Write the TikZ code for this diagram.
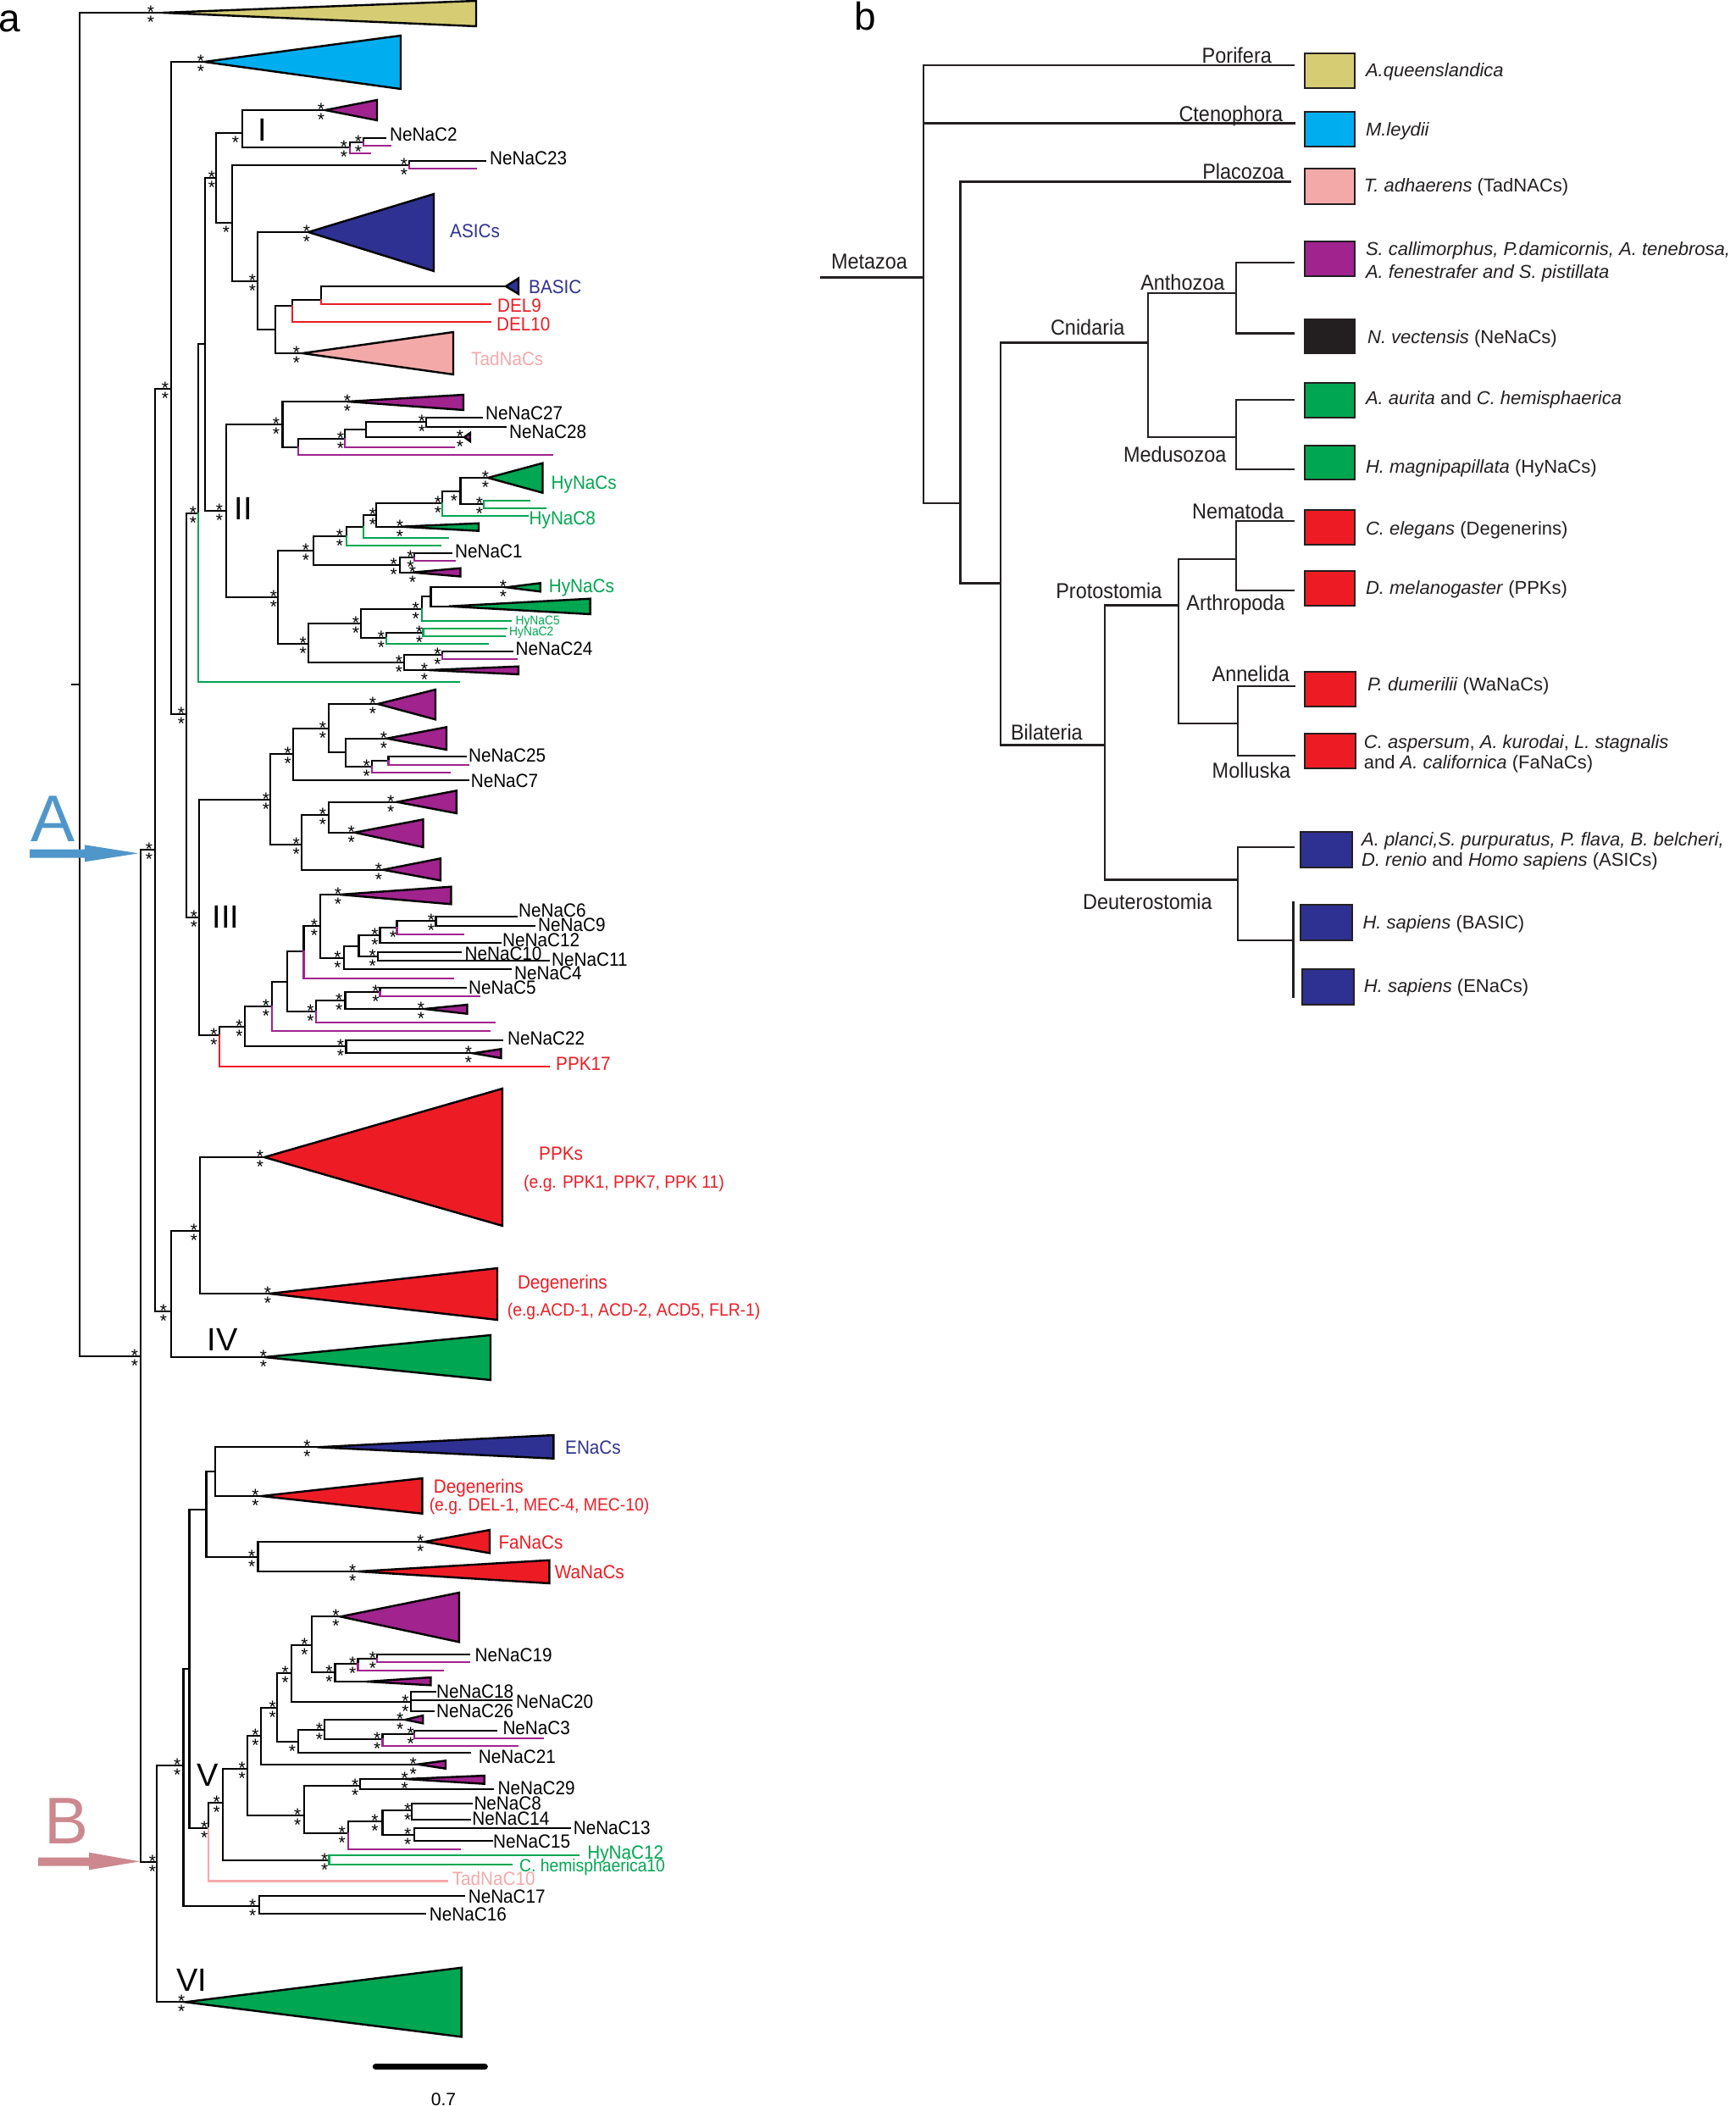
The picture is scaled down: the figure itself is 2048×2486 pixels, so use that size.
\documentclass[tikz,border=0pt]{standalone}
\usepackage{fontspec}
\setmainfont{Liberation Sans}
\newfontfamily\labfont[FakeStretch=0.92]{Liberation Sans}
\definecolor{yel}{HTML}{D5CC74}
\definecolor{cya}{HTML}{00AEEF}
\definecolor{pur}{HTML}{A0238E}
\definecolor{dbl}{HTML}{2E3192}
\definecolor{pnk}{HTML}{F4A9A9}
\definecolor{redc}{HTML}{ED1C24}
\definecolor{grn}{HTML}{00A651}
\definecolor{blk}{HTML}{231F20}
\definecolor{arA}{HTML}{4F97CB}
\definecolor{arB}{HTML}{CC888E}
\definecolor{pkl}{HTML}{F6A8A8}
\newcommand\bra[5]{\coordinate (#2) at (#3,#4); \draw[br,#5] (#1) |- (#2);}
\newcommand\tri[8]{\coordinate (#2) at (#3,#4); \draw[br,black] (#1) |- (#2); \filldraw[tribox,fill=#8] (#2) -- (#5,#6) -- (#5,#7) -- cycle;}
\newcommand\sst[2]{\node[stt] at (#1,#2+6.3) {*}; \node[stt] at (#1,#2+18.3) {*};}
\newcommand\stb[2]{\node[stt] at (#1,#2+18.3) {*};}
\newcommand\lab[5]{\node[lab,text=#4] (#1) at (#2,#3) {#5};}
\newcommand\pbra[4]{\coordinate (#2) at (#3,#4); \draw[pbr] (#1) |- (#2);}
\begin{document}
\begin{tikzpicture}[x=1pt,y=-1pt,
  br/.style={line width=2.2pt,line cap=rect,line join=miter},
  pbr/.style={line width=2.4pt,line cap=rect,draw=blk},
  tribox/.style={line width=2.4pt,line join=miter,draw=black},
  bbox/.style={line width=2pt,draw=blk},
  stt/.style={anchor=base,inner sep=0pt,font=\fontsize{21}{21}\selectfont},
  lab/.style={anchor=base west,inner sep=0pt,font=\labfont\fontsize{22.5}{24}\selectfont},
  labs/.style={anchor=base west,inner sep=0pt,font=\labfont\fontsize{21}{22}\selectfont},
  labt/.style={anchor=base west,inner sep=0pt,font=\labfont\fontsize{15}{16}\selectfont},
  rom/.style={anchor=base,inner sep=0pt,font=\fontsize{38}{38}\selectfont},
  cl/.style={anchor=base,inner sep=0pt,text=blk,font=\labfont\fontsize{25.5}{26}\selectfont},
  sp/.style={anchor=base west,inner sep=0pt,text=blk,font=\fontsize{22}{24}\selectfont}]
\useasboundingbox (0,0) rectangle (2048,2486);
\fill[white] (0,0) rectangle (2048,2486);
% ================= panel a =================
\node[anchor=base west,inner sep=0pt,font=\fontsize{46}{46}\selectfont] (pa) at (-2,38) {a};
\coordinate (rootstub) at (85,808);
\coordinate (root) at (94,808);
\draw[br] (rootstub) -- (root);
\tri{root}{tY}{192}{15}{562}{1}{31}{yel}
\bra{root}{nA}{166}{1601}{black}
\bra{nA}{n183}{183}{1003}{black}
\bra{nA}{n185}{185.3}{2198}{black}
\bra{n183}{n202}{202}{459}{black}
\bra{n183}{n202b}{202}{1548}{black}
\tri{n202}{tC}{241}{73}{473}{42}{105}{cya}
\bra{n202}{n220}{220}{843}{black}
\bra{n220}{n234}{234.3}{606}{black}
\bra{n220}{n235}{235}{1083}{black}
\bra{n234}{n241}{241.8}{406}{black}
\bra{n234}{lG1}{542}{805}{grn}
\bra{n241}{n255}{255}{210}{black}
\bra{n241}{n267}{267}{603}{black}
\bra{n255}{n286}{286}{157}{black}
\bra{n255}{n274}{274}{263}{black}
\tri{n286}{tI}{384}{130}{445}{118}{142}{pur}
\bra{n286}{n413}{413}{174}{black}
\bra{n413}{n429}{429}{168}{black}
\bra{n413}{l413}{437}{181}{pur}
\bra{n429}{lC2}{455}{163}{black}
\bra{n429}{l429}{461}{172}{pur}
\bra{n274}{n483}{483}{195}{black}
\bra{n274}{n304}{304}{332}{black}
\bra{n483}{lC23}{573}{190}{black}
\bra{n483}{l483}{562}{199}{pur}
\tri{n304}{tAS}{364}{274}{512}{229}{320}{dbl}
\bra{n304}{n325}{325}{389}{black}
\bra{n325}{n345}{345}{361}{black}
\tri{n325}{tTad}{357}{417}{535}{392}{442}{pnk}
\bra{n345}{n379}{379}{354}{black}
\bra{n345}{lD10}{579}{380}{redc}
\bra{n379}{lBA}{597}{338}{black}
\filldraw[tribox,fill=dbl] (lBA) -- (612,328.5) -- (612,347) -- cycle;
\bra{n379}{lD9}{579}{359}{redc}
% clade II
\bra{n267}{n333}{333.5}{501}{black}
\bra{n267}{n328}{328.2}{705}{black}
\tri{n333}{tII1}{410}{474}{547}{466}{484}{pur}
\bra{n333}{n352}{352}{528}{black}
\bra{n352}{n407}{407}{518}{black}
\bra{n352}{l352}{652}{537}{pur}
\bra{n407}{n432}{432}{507}{black}
\bra{n407}{l407}{536}{528}{pur}
\bra{n432}{n503}{503}{498}{black}
\tri{n432}{tII2}{548}{516}{555}{511}{521}{pur}
\bra{n503}{lC27}{569}{493}{black}
\bra{n503}{lC28}{597}{504}{black}
\bra{n328}{n370}{370}{650}{black}
\bra{n328}{n364}{364}{760}{black}
\bra{n370}{n409}{409}{632.7}{black}
\bra{n370}{n471}{471.7}{666.7}{black}
\bra{n409}{n429b}{429}{621.7}{black}
\bra{n409}{l409}{520}{644}{grn}
\bra{n429b}{n444}{444}{608.3}{black}
\bra{n429b}{l429b}{529}{635}{grn}
\bra{n444}{n522}{522}{594}{black}
\tri{n444}{tII3}{473}{621.7}{565}{617.7}{626.7}{grn}
\bra{n522}{n543}{543.5}{580}{black}
\bra{n522}{lH8}{623}{609}{grn}
\tri{n543}{tHy1}{576}{564}{640.5}{546.7}{581.7}{grn}
\bra{n543}{n571}{571}{595}{black}
\bra{n571}{l571a}{624.5}{591}{grn}
\bra{n571}{l571b}{644}{600}{grn}
\bra{n471}{n489}{489}{657.7}{black}
\tri{n471}{tII4}{487}{675.7}{543.5}{670.7}{680.5}{pur}
\bra{n489}{lC1}{532.4}{652.7}{black}
\bra{n489}{l489}{537}{661.7}{pur}
\bra{n364}{n425}{425.6}{736}{black}
\bra{n364}{n477}{477}{782.3}{black}
\bra{n425}{n497}{497.7}{719.3}{black}
\bra{n425}{n455}{455.6}{753.3}{black}
\bra{n497}{n508}{508.4}{704.3}{black}
\bra{n497}{lH5}{603}{733.3}{grn}
\tri{n508}{tHy2}{597.7}{693.3}{637.7}{688.3}{698.3}{grn}
\tri{n508}{tHy3}{530}{715.7}{696.6}{706.7}{725}{grn}
\bra{n455}{n499}{499.5}{746.7}{black}
\bra{n455}{l455}{576.3}{760}{grn}
\bra{n499}{l499a}{597.7}{742.3}{grn}
\bra{n499}{lH2}{596}{751}{grn}
\bra{n477}{n522b}{522}{773.3}{black}
\tri{n477}{tII5}{506}{791}{612}{786.7}{796}{pur}
\bra{n522b}{lC24}{605}{769.3}{black}
\bra{n522b}{l522b}{610}{777.7}{pur}
% clade III
\bra{n235}{n319}{319}{944}{black}
\bra{n235}{n259}{259.3}{1221.7}{black}
\bra{n319}{n346}{346}{890}{black}
\bra{n319}{n355}{355.6}{997.3}{black}
\bra{n346}{n388}{388}{860}{black}
\bra{n346}{lC7}{552.4}{920.7}{black}
\tri{n388}{tIII1}{446}{831}{514}{814}{849.3}{pur}
\bra{n388}{n408}{407.8}{888.3}{black}
\tri{n408}{tIII2}{456.7}{871.7}{527}{858.3}{885}{pur}
\bra{n408}{n439}{439}{905}{black}
\bra{n439}{n458}{458.5}{898.3}{black}
\bra{n439}{l439}{530.6}{911.7}{pur}
\bra{n458}{lC25}{549.5}{893.3}{black}
\bra{n458}{l458}{552.4}{902.7}{pur}
\bra{n355}{n388b}{388}{962.3}{black}
\tri{n355}{tIII3}{452}{1026.7}{520}{1013.3}{1039.3}{pur}
\tri{n388b}{tIII4}{468.5}{946.7}{538.8}{933.3}{960}{pur}
\tri{n388b}{tIII5}{418.5}{982.7}{499.5}{967.3}{1000}{pur}
\bra{n259}{n289}{289}{1211.7}{black}
\bra{n259}{lP17}{647.7}{1259.3}{redc}
\bra{n289}{n321}{321}{1187.7}{black}
\bra{n289}{n408b}{408.5}{1235}{black}
\bra{n321}{n339}{339}{1159}{black}
\bra{n321}{l321}{577.4}{1216.7}{pur}
\bra{n339}{n358}{358.5}{1123.3}{black}
\bra{n339}{n373}{373}{1194}{black}
\bra{n358}{n378}{378}{1093.3}{black}
\bra{n358}{l358}{534.5}{1155}{pur}
\tri{n378}{tIII6}{401}{1056}{532.4}{1046.7}{1067.3}{pur}
\bra{n378}{n406}{406}{1131}{black}
\bra{n406}{n423}{423.5}{1116.7}{black}
\bra{n406}{lC4}{603}{1144.3}{black}
\bra{n423}{n448}{448.5}{1104}{black}
\bra{n423}{n446}{446}{1129.3}{black}
\bra{n448}{n468}{468.5}{1095}{black}
\bra{n448}{lC12}{590.6}{1113.3}{black}
\bra{n468}{n514}{514.5}{1087.3}{black}
\bra{n468}{l468}{546.7}{1103.3}{pur}
\bra{n514}{lC6}{610.2}{1081.7}{black}
\bra{n514}{lC9}{630.6}{1093.3}{black}
\bra{n446}{lC10}{544}{1124}{black}
\bra{n446}{lC11}{647.7}{1134.3}{black}
\bra{n373}{n407b}{407.4}{1181}{black}
\bra{n373}{l373}{583.4}{1207.3}{pur}
\bra{n407b}{n448b}{448.5}{1170.7}{black}
\tri{n407b}{tIII7}{501}{1191}{551.3}{1186}{1196.7}{pur}
\bra{n448b}{lC5}{549.5}{1165.7}{black}
\bra{n448b}{l448b}{565.7}{1175.7}{pur}
\bra{n408b}{lC22}{593}{1227.7}{black}
\tri{n408b}{tIII8}{558.5}{1243.3}{591.3}{1238.3}{1249}{pur}
% clade IV
\bra{n202b}{n236}{236}{1453}{black}
\tri{n202b}{tIV}{312}{1602}{579}{1576}{1629}{grn}
\tri{n236}{tPPK}{312}{1366}{593}{1285}{1447}{redc}
\tri{n236}{tDeg}{318}{1527}{587}{1497}{1558}{redc}
% B part
\bra{n185}{n216}{216.5}{2084}{black}
\tri{n185}{tVI}{218.7}{2363.3}{544.6}{2322.7}{2404.3}{grn}
\bra{n216}{n223}{223.5}{1970}{black}
\bra{n216}{n306}{305.7}{2250}{black}
\bra{n306}{lC17}{548.2}{2237.7}{black}
\bra{n306}{lC16}{502.2}{2259.3}{black}
\bra{n223}{n243}{243.4}{1781.7}{black}
\bra{n223}{n246}{246.3}{2157.7}{black}
\bra{n243}{n254}{253.8}{1736.7}{black}
\bra{n243}{n304b}{304.4}{1837.7}{black}
\tri{n254}{tEN}{374.8}{1708.3}{653.4}{1694}{1721.7}{dbl}
\tri{n254}{tDeg2}{308.5}{1766}{498.3}{1745}{1786.7}{redc}
\tri{n304b}{tFa}{501.2}{1820}{578}{1806}{1833.3}{redc}
\tri{n304b}{tWa}{422.5}{1855}{648.4}{1841.7}{1869}{redc}
\bra{n246}{n263}{262.9}{2128.3}{black}
\bra{n246}{lT10}{528.2}{2220.5}{pkl}
\bra{n263}{n292}{291.9}{2087.7}{black}
\bra{n263}{n388c}{388.5}{2196}{black}
\bra{n388c}{lH12}{682.8}{2190}{grn}
\bra{n388c}{lCh10}{603.6}{2201}{grn}
\bra{n292}{n308}{307.7}{2049.3}{black}
\bra{n292}{n359}{359}{2143.3}{black}
\bra{n308}{n327}{327.2}{2016}{black}
\tri{n308}{tV1}{493}{2082.7}{526}{2078.3}{2087.7}{pur}
\bra{n327}{n344}{343.7}{1975}{black}
\bra{n327}{n352b}{352}{2055.7}{black}
\bra{n344}{n368}{367.8}{1941.7}{black}
\bra{n344}{n485}{484.7}{2009.3}{black}
\tri{n368}{tV2}{401.8}{1908.3}{541.9}{1880}{1938.3}{pur}
\bra{n368}{n395}{395.5}{1974.3}{black}
\bra{n395}{n422}{422.5}{1964}{black}
\tri{n395}{tV3}{432.8}{1985}{508.3}{1980}{1989.3}{pur}
\bra{n422}{n445}{445.3}{1958.3}{black}
\bra{n422}{l422}{523.2}{1971.7}{pur}
\bra{n445}{lC19}{554.3}{1953.3}{black}
\bra{n445}{l445}{554.3}{1962.3}{pur}
\bra{n485}{lC18}{513.7}{1997.3}{black}
\bra{n485}{lC20}{603.6}{2007.3}{black}
\bra{n485}{lC26}{511.6}{2020}{black}
\bra{n352b}{n383}{383.1}{2041.7}{black}
\bra{n352b}{lC21}{555.1}{2069.3}{black}
\tri{n383}{tV4}{478.4}{2030}{499.2}{2025}{2034.3}{pur}
\bra{n383}{n451}{451.5}{2053.3}{black}
\bra{n451}{n489b}{488.8}{2046.7}{black}
\bra{n451}{l451}{611}{2060.7}{pur}
\bra{n489b}{lC3}{586.2}{2042.7}{black}
\bra{n489b}{l489b}{641}{2051.7}{pur}
\bra{n359}{n425b}{424.6}{2107.7}{black}
\bra{n359}{n411}{410.9}{2164.3}{black}
\tri{n425b}{tV5}{478.4}{2100}{571.7}{2096}{2105.7}{pur}
\bra{n425b}{lC29}{582}{2112.3}{black}
\bra{n411}{n451b}{451.5}{2150}{black}
\bra{n411}{l411}{542.7}{2182.7}{pur}
\bra{n451b}{n486}{485.9}{2137.3}{black}
\bra{n451b}{n489c}{488.8}{2166}{black}
\bra{n486}{lC8}{557.2}{2129.3}{black}
\bra{n486}{lC14}{555.1}{2148.3}{black}
\bra{n489c}{lC13}{673.2}{2158.3}{black}
\bra{n489c}{lC15}{581.2}{2173.3}{black}
% stars
\sst{178}{15}\sst{237}{73}\sst{250}{210}\stb{278}{157}\sst{379}{130}
\sst{423}{168}\sst{406}{174}\sst{477}{195}\stb{267}{263}\sst{298}{332}
\sst{362}{274}\sst{350}{417}\sst{195}{459}\sst{176}{1003}\sst{159}{1601}
\sst{214}{843}\sst{228}{606}\sst{229}{1083}\sst{259}{603}
\sst{326}{501}\sst{410}{474}\sst{402}{518}\sst{498}{498}\sst{543}{516}
\sst{323}{705}\sst{361}{650}\sst{401}{632.7}\sst{440}{608.3}\sst{517}{594}
\stb{536}{580}\sst{573}{564}\sst{566}{595}\sst{472}{621.7}\sst{464.6}{666.7}
\sst{484.5}{657.7}\sst{487}{675.7}\sst{357.8}{760}\sst{420}{736}\sst{490.6}{719.3}
\sst{594}{693.3}\sst{450}{753.3}\sst{495}{746.7}\sst{471}{782.3}\sst{516.4}{773.3}
\sst{501}{791}
\sst{314}{944}\sst{339.6}{890}\sst{381}{860}\sst{440}{831}\sst{453}{871.7}
\sst{432.8}{905}\sst{349.6}{997.3}\sst{381}{962.3}\sst{461.3}{946.7}\sst{414.6}{982.7}
\sst{447}{1026.7}\sst{252.5}{1221.7}\sst{282.5}{1211.7}\sst{314}{1187.7}\sst{371}{1093.3}
\sst{399}{1056}\sst{398.5}{1131}\sst{442.4}{1104}\stb{464}{1095}\sst{509}{1087.3}
\sst{439.6}{1129.3}\sst{366.4}{1194}\sst{400.3}{1181}\sst{443.5}{1170.7}\sst{497}{1191}
\sst{402}{1235}\sst{553}{1243.3}
\sst{193}{1548}\sst{229}{1453}\sst{307}{1366}\sst{316}{1527}\sst{311}{1602}
\sst{180}{2198}\sst{209.3}{2084}\sst{214.3}{2363.3}\sst{298.2}{2250}\sst{362.4}{1708.3}
\sst{301.4}{1766}\sst{297.3}{1837.7}\sst{496.3}{1820}\sst{416.3}{1855}\sst{241.3}{2157.7}
\sst{255.8}{2128.3}\sst{383.1}{2196}\sst{285.7}{2087.7}\sst{301.4}{2049.3}\sst{321.8}{2016}
\sst{336.7}{1975}\sst{359.5}{1941.7}\sst{396.4}{1908.3}\sst{388.5}{1974.3}\sst{416.3}{1964}
\sst{440}{1958.3}\sst{478.4}{2009.3}\stb{345}{2055.7}\sst{376.9}{2041.7}\sst{472.2}{2030}
\sst{445.3}{2053.3}\sst{484.7}{2046.7}\sst{487.6}{2082.7}\sst{351.2}{2143.3}\sst{419.2}{2107.7}
\sst{477.6}{2100}\sst{403.8}{2164.3}\sst{442.4}{2150}\sst{481.3}{2137.3}\sst{481.3}{2166}
% labels
\lab{xC2}{460}{166.5}{black}{NeNaC2}
\lab{xC23}{578}{194}{black}{NeNaC23}
\lab{xAS}{531}{280.5}{dbl}{ASICs}
\lab{xBA}{624}{346}{dbl}{BASIC}
\lab{xD9}{587}{368}{redc}{DEL9}
\lab{xD10}{586}{390.5}{redc}{DEL10}
\lab{xTad}{556}{431.5}{pnk}{TadNaCs}
\lab{xC27}{573}{495}{black}{NeNaC27}
\lab{xC28}{601}{517}{black}{NeNaC28}
\lab{xHy1}{650.5}{577}{grn}{HyNaCs}
\lab{xH8}{624.5}{619}{grn}{HyNaC8}
\lab{xC1}{537}{658.5}{black}{NeNaC1}
\lab{xHy2}{647.7}{699}{grn}{HyNaCs}
\node[labt,text=grn] (xH5) at (608.4,737.5) {HyNaC5};
\node[labt,text=grn] (xH2) at (601,750) {HyNaC2};
\lab{xC24}{608.4}{773.8}{black}{NeNaC24}
\lab{xC25}{553}{899.7}{black}{NeNaC25}
\lab{xC7}{555.6}{929}{black}{NeNaC7}
\lab{xC6}{612}{1082.7}{black}{NeNaC6}
\lab{xC9}{635}{1099}{black}{NeNaC9}
\lab{xC12}{593}{1117}{black}{NeNaC12}
\lab{xC10}{548.4}{1133}{black}{NeNaC10}
\lab{xC11}{651}{1140.5}{black}{NeNaC11}
\lab{xC4}{607}{1156}{black}{NeNaC4}
\lab{xC5}{553}{1173}{black}{NeNaC5}
\lab{xC22}{599}{1233.8}{black}{NeNaC22}
\lab{xP17}{656}{1263.8}{redc}{PPK17}
\lab{xPPK}{636}{1369.5}{redc}{PPKs}
\node[labs,text=redc] (xPPKe) at (618,1402) {(e.g. PPK1, PPK7, PPK 11)};
\lab{xDeg}{610.8}{1521}{redc}{Degenerins}
\node[labs,text=redc] (xDege) at (598.7,1553) {(e.g.ACD-1, ACD-2, ACD5, FLR-1)};
\lab{xEN}{667}{1716.7}{dbl}{ENaCs}
\lab{xDeg2}{511.6}{1762}{redc}{Degenerins}
\node[labs,text=redc] (xDeg2e) at (506.6,1783) {(e.g. DEL-1, MEC-4, MEC-10)};
\lab{xFa}{588.3}{1828}{redc}{FaNaCs}
\lab{xWa}{654.6}{1863.3}{redc}{WaNaCs}
\lab{xC19}{560.5}{1961.3}{black}{NeNaC19}
\lab{xC18}{515}{2004.3}{black}{NeNaC18}
\lab{xC20}{609}{2016}{black}{NeNaC20}
\lab{xC26}{515}{2027.5}{black}{NeNaC26}
\lab{xC3}{593.3}{2047.2}{black}{NeNaC3}
\lab{xC21}{564.7}{2081.8}{black}{NeNaC21}
\lab{xC29}{587.5}{2118.5}{black}{NeNaC29}
\lab{xC8}{559.3}{2136}{black}{NeNaC8}
\lab{xC14}{557.2}{2154.3}{black}{NeNaC14}
\lab{xC13}{676.6}{2165.7}{black}{NeNaC13}
\lab{xC15}{582}{2181.3}{black}{NeNaC15}
\lab{xH12}{693.2}{2194}{grn}{HyNaC12}
\node[labs,text=grn] (xCh10) at (613,2209) {C. hemisphaerica10};
\lab{xT10}{533.6}{2225}{pnk}{TadNaC10}
\lab{xC17}{552.6}{2246}{black}{NeNaC17}
\lab{xC16}{506.7}{2267.5}{black}{NeNaC16}
\node[rom] (rI) at (309.5,166) {I};
\node[rom] (rII) at (287.5,613) {II};
\node[rom] (rIII) at (266.5,1095) {III};
\node[rom] (rIV) at (262.5,1594) {IV};
\node[rom] (rV) at (244.8,2108.3) {V};
\node[rom] (rVI) at (226,2350) {VI};
% arrows A and B
\node[anchor=base,inner sep=0pt,text=arA,font=\fontsize{78}{78}\selectfont] (letA) at (62.5,993) {A};
\fill[arA] (35,1002.7) -- (100,1002.7) -- (100,997.3) -- (163.3,1007.3) -- (100,1017.3) -- (100,1012.7) -- (35,1012.7) -- cycle;
\node[anchor=base,inner sep=0pt,text=arB,font=\fontsize{78}{78}\selectfont] (letB) at (78.3,2176.7) {B};
\fill[arB] (45,2192.7) -- (105,2192.7) -- (105,2186.7) -- (165,2197.3) -- (105,2207.3) -- (105,2202.7) -- (45,2202.7) -- cycle;
% scale bar
\coordinate (sb1) at (443.4,2439.7);
\coordinate (sb2) at (572.2,2439.7);
\draw[line width=7.3pt,line cap=round] (sb1) -- (sb2);
\node[anchor=base,inner sep=0pt,font=\fontsize{21}{21}\selectfont] (sbl) at (523.5,2485) {0.7};
% ================= panel b =================
\node[anchor=base west,inner sep=0pt,font=\fontsize{46}{46}\selectfont] (pb) at (1008,36) {b};
\coordinate (bstub) at (969.6,327.3);
\coordinate (bM) at (1090,327.3);
\draw[pbr] (bstub) -- (bM);
\pbra{bM}{bPor}{1526.3}{77.3}
\pbra{bM}{bCte}{1527.7}{145.7}
\pbra{bM}{bP}{1133.5}{594}
\pbra{bP}{bPla}{1522.8}{214.3}
\pbra{bP}{bE}{1181}{688.3}
\pbra{bE}{bCn}{1354.8}{404.3}
\pbra{bE}{bBi}{1303.7}{879.3}
\pbra{bCn}{bAn}{1459}{346}
\pbra{bCn}{bMe}{1459}{515.7}
\pbra{bAn}{bAn1}{1526.3}{310}
\pbra{bAn}{bAn2}{1526.3}{393.3}
\pbra{bMe}{bMe1}{1526.3}{471.7}
\pbra{bMe}{bMe2}{1526.3}{554}
\pbra{bBi}{bPr}{1391.2}{714.3}
\pbra{bBi}{bDe}{1461.2}{1038.3}
\pbra{bPr}{bNA}{1459}{660}
\pbra{bPr}{bAM}{1461}{854}
\pbra{bNA}{bNA1}{1526.3}{615}
\pbra{bNA}{bNA2}{1526.3}{696.7}
\pbra{bAM}{bAM1}{1527.7}{810}
\pbra{bAM}{bAM2}{1527.7}{891.7}
\pbra{bDe}{bDe1}{1526.3}{1000}
\pbra{bDe}{bDe2}{1526.3}{1110}
\coordinate (bk1) at (1526.3,1065);
\coordinate (bk2) at (1526.3,1176.7);
\draw[pbr] (bk1) -- (bk2);
% clade labels
\node[cl] (cPor) at (1459.8,74.7) {Porifera};
\node[cl] (cCte) at (1452.8,143.3) {Ctenophora};
\node[cl] (cPla) at (1467.5,211.2) {Placozoa};
\node[cl] (cMet) at (1026,317.7) {Metazoa};
\node[cl] (cAnt) at (1395.8,342) {Anthozoa};
\node[cl] (cCni) at (1283.7,395.4) {Cnidaria};
\node[cl] (cMed) at (1386.7,545.9) {Medusozoa};
\node[cl] (cNem) at (1461.2,612.9) {Nematoda};
\node[cl] (cPro) at (1308.9,706) {Protostomia};
\node[cl] (cArt) at (1458.5,720) {Arthropoda};
\node[cl] (cAnn) at (1476.3,804.9) {Annelida};
\node[cl] (cBil) at (1235.4,873.7) {Bilateria};
\node[cl] (cMol) at (1477,918.2) {Molluska};
\node[cl] (cDeu) at (1354.4,1073.5) {Deuterostomia};
% boxes
\filldraw[bbox,fill=yel] (1540.3,62.7) rectangle (1599.2,104);
\filldraw[bbox,fill=cya] (1540.3,132.3) rectangle (1599.2,173.3);
\filldraw[bbox,fill=pnk] (1540.3,199.3) rectangle (1599.2,240.7);
\filldraw[bbox,fill=pur] (1540.3,285) rectangle (1599.2,326);
\filldraw[bbox,fill=blk] (1540.3,376.7) rectangle (1599.2,416.5);
\filldraw[bbox,fill=grn] (1540.3,452.3) rectangle (1599.2,493.3);
\filldraw[bbox,fill=grn] (1540.3,526) rectangle (1599.2,566);
\filldraw[bbox,fill=redc] (1540.3,601.7) rectangle (1599.2,643.3);
\filldraw[bbox,fill=redc] (1540.3,674) rectangle (1599.2,715);
\filldraw[bbox,fill=redc] (1540.3,793.3) rectangle (1599.9,834);
\filldraw[bbox,fill=redc] (1540.3,866) rectangle (1599.9,906.7);
\filldraw[bbox,fill=dbl] (1534.7,982.3) rectangle (1595.6,1024.3);
\filldraw[bbox,fill=dbl] (1534.7,1068.3) rectangle (1595.6,1110);
\filldraw[bbox,fill=dbl] (1536.8,1144) rectangle (1597.7,1186);
% species
\node[sp] (s1) at (1611.8,90.7) {\textit{A.queenslandica}};
\node[sp] (s2) at (1611.8,160.2) {\textit{M.leydii}};
\node[sp] (s3) at (1609.7,226) {\textit{T. adhaerens} (TadNACs)};
\node[sp] (s4) at (1611.8,301) {\textit{S. callimorphus, P.damicornis, A. tenebrosa,}};
\node[sp] (s5) at (1611.8,328) {\textit{A. fenestrafer and S. pistillata}};
\node[sp] (s6) at (1613.9,405.5) {\textit{N. vectensis} (NeNaCs)};
\node[sp] (s7) at (1611.8,477.3) {\textit{A. aurita} and \textit{C. hemisphaerica}};
\node[sp] (s8) at (1611.8,558.9) {\textit{H. magnipapillata} (HyNaCs)};
\node[sp] (s9) at (1611.8,631) {\textit{C. elegans} (Degenerins)};
\node[sp] (s10) at (1611.8,701.7) {\textit{D. melanogaster} (PPKs)};
\node[sp] (s11) at (1613.9,815.5) {\textit{P. dumerilii} (WaNaCs)};
\node[sp] (s12) at (1609.7,883.7) {\textit{C. aspersum}, \textit{A. kurodai}, \textit{L. stagnalis}};
\node[sp] (s13) at (1609.7,907.7) {and \textit{A. californica} (FaNaCs)};
\node[sp] (s14) at (1606.9,998.9) {\textit{A. planci,S. purpuratus, P. flava, B. belcheri,}};
\node[sp] (s15) at (1606.9,1022.4) {\textit{D. renio} and \textit{Homo sapiens} (ASICs)};
\node[sp] (s16) at (1608.3,1096.9) {\textit{H. sapiens} (BASIC)};
\node[sp] (s17) at (1609.7,1171.9) {\textit{H. sapiens} (ENaCs)};
\end{tikzpicture}
\end{document}
